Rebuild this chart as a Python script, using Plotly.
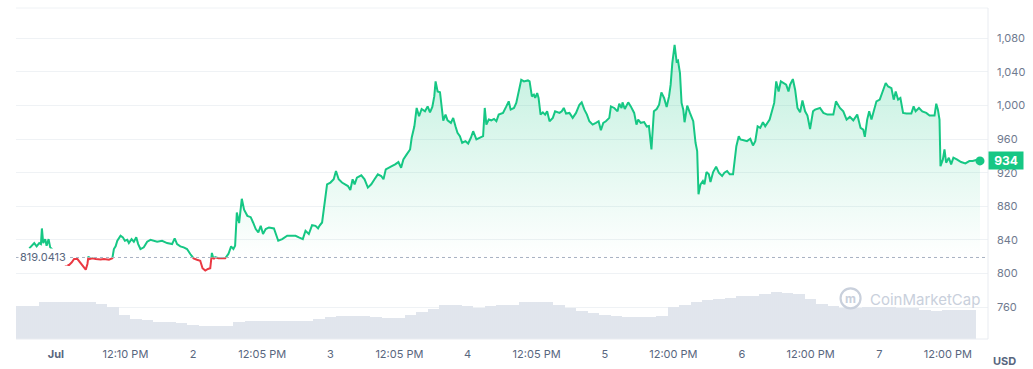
import pandas as pd
import plotly.graph_objects as go

# ---------------- data ----------------
# hours since 2023-07-01 00:00
hours = [-4.65, -4.06, -3.78, -3.36, -2.91, -2.61, -2.44, -2.21, -1.86, -1.62, -1.27, -0.99, -0.70,
         1.74, 2.32, 2.79, 3.19, 3.78, 4.18, 4.65, 5.23, 5.52, 5.70, 5.92, 6.39, 6.97, 7.84, 8.41, 9.28,
         9.88, 10.15, 10.45, 10.75, 11.32, 11.72, 12.07, 12.49, 12.77, 13.24, 13.64, 14.06, 14.40, 14.80,
         15.38, 15.97, 16.55, 17.12, 17.71, 18.58, 19.45, 20.33, 20.78, 21.20, 21.77, 22.35, 22.94, 23.51,
         24.09, 24.68, 25.25, 25.65, 26.13, 26.60, 27.00, 27.29, 27.57, 27.87, 28.44, 29.03, 29.61, 30.18,
         30.65, 31.05, 31.35, 31.65, 32.05, 32.52, 32.92, 33.49, 34.08, 34.49, 34.96, 35.41, 35.83, 36.23,
         36.70, 37.27, 38.14, 38.89, 39.59, 40.46, 41.33, 41.92, 42.50, 43.19, 43.66, 44.24, 44.81, 45.41,
         45.86, 46.10, 46.56, 47.03, 47.43, 48.02, 48.59, 48.99, 49.46, 50.04, 50.63, 51.08, 51.50, 51.90,
         52.25, 52.65, 53.42, 53.99, 54.57, 55.16, 55.73, 56.31, 56.90, 57.30, 57.70, 58.17, 58.75, 59.34,
         59.91, 60.38, 60.78, 61.36, 61.95, 62.23, 62.70, 63.10, 63.52, 63.97, 64.56, 65.02, 65.43, 65.84,
         66.18, 66.41, 66.76, 67.18, 67.75, 68.15, 68.50, 69.09, 69.49, 69.89, 70.24, 70.66, 71.06, 71.64,
         72.11, 72.58, 72.98, 73.55, 74.14, 74.72, 75.01, 75.29, 75.71, 76.16, 76.63, 77.04, 77.45, 78.20,
         78.78, 79.20, 79.54, 80.12, 80.52, 80.94, 81.39, 81.86, 82.56, 82.85, 83.25, 83.60, 83.83, 84.18,
         84.42, 84.77, 85.17, 85.57, 85.92, 86.34, 86.91, 87.31, 88.08, 88.48, 88.83, 89.23, 89.82, 90.39,
         90.97, 91.56, 91.96, 92.43, 92.88, 93.30, 93.88, 94.45, 94.92, 95.32, 95.74, 96.19, 96.79, 97.07,
         97.66, 98.23, 98.53, 98.93, 99.10, 99.50, 100.10, 100.55, 101.14, 101.54, 101.84, 102.29, 102.88,
         103.34, 103.72, 104.16, 104.59, 105.08, 105.50, 105.90, 106.37, 106.82, 107.24, 107.52, 107.81,
         108.21, 108.56, 108.80, 109.15, 109.43, 109.73, 109.95, 110.42, 110.89, 111.47, 111.87, 112.16,
         112.39, 112.74, 113.16, 113.43, 113.78, 114.20, 114.48, 114.95, 115.47, 115.94, 116.52, 116.92,
         117.39, 117.86, 118.43, 118.73, 119.01, 119.43, 119.71, 120.30, 120.87, 121.45, 121.92, 122.32,
         122.73, 123.19, 123.66, 124.06, 124.48, 124.83, 125.23, 125.63, 125.98, 126.40, 126.79, 127.26,
         127.72, 128.13, 128.41, 128.89, 129.29, 129.70, 130.16, 130.57, 131.03, 131.44, 131.90, 132.42,
         132.77, 133.64, 134.23, 134.93, 135.38, 135.97, 136.43, 137.12, 137.71, 138.29, 138.86, 139.46,
         140.15, 140.73, 141.20, 141.48, 141.89, 142.24, 142.64, 143.04, 143.51, 144.09, 144.68, 145.13,
         145.55, 146.13, 146.53, 146.88, 147.30, 147.70, 148.17, 148.74, 149.61, 150.01, 150.36, 150.95,
         151.53, 152.22, 152.80, 153.67, 153.97, 154.26, 154.54, 154.71, 155.13, 155.41, 155.70, 156.17,
         156.57, 156.97, 157.56, 158.31, 159.06, 159.76, 160.35, 160.93, 161.62]

prices = [829.9, 835.0, 836.2, 832.3, 836.2, 835.0, 853.6, 836.2, 840.9, 833.0, 840.9, 831.1, 829.1,
          810.1, 810.1, 813.3, 817.2, 817.2, 813.3, 809.3, 804.6, 811.3, 820.4, 817.2, 818.1, 817.2, 816.6, 817.2, 816.4,
          818.1, 829.1, 832.3, 838.9, 844.9, 843.0, 838.9, 840.1, 836.2, 840.9, 837.8, 843.0, 835.0, 829.1,
          831.1, 837.8, 840.1, 838.9, 837.8, 838.9, 836.2, 835.0, 841.8, 835.0, 832.3, 831.1, 829.1, 823.2,
          818.0, 816.4, 815.2, 806.2, 803.4, 805.4, 806.2, 824.4, 817.2, 819.3, 818.1, 818.1, 818.1, 823.2,
          832.3, 829.1, 833.0, 872.6, 859.9, 888.9, 875.9, 868.6, 867.0, 860.7, 852.8, 848.9, 856.7, 846.9,
          852.8, 854.8, 853.6, 838.9, 840.9, 844.9, 844.9, 844.9, 843.0, 840.9, 850.8, 846.9, 857.5, 856.7,
          853.6, 856.7, 860.7, 884.4, 906.1, 908.2, 912.1, 921.9, 912.1, 908.2, 906.1, 904.1, 899.4, 912.1,
          906.1, 914.1, 916.8, 912.1, 902.2, 906.1, 912.1, 918.0, 916.0, 912.1, 923.9, 925.9, 927.8, 929.8,
          932.6, 925.9, 935.8, 941.7, 947.6, 961.5, 975.2, 997.0, 987.1, 995.8, 993.0, 998.9, 991.8, 998.2,
          1010.8, 1028.6, 1016.7, 1015.8, 982.0, 989.1, 982.3, 979.3, 985.2, 975.2, 967.4, 963.4, 955.6, 957.5,
          954.7, 961.5, 969.3, 959.5, 961.5, 963.4, 997.0, 977.2, 983.2, 982.3, 984.0, 981.2, 989.1, 991.1,
          998.9, 1004.9, 995.0, 997.0, 1003.0, 1018.7, 1030.6, 1028.6, 1029.8, 1028.6, 1010.8, 1012.8, 1008.9, 1014.8,
          1008.9, 989.1, 991.8, 989.1, 993.0, 981.2, 985.2, 993.0, 991.1, 993.0, 997.0, 990.3, 991.1, 985.2,
          991.1, 1000.9, 1003.7, 995.0, 989.1, 981.2, 977.2, 979.3, 981.2, 970.5, 979.3, 981.2, 985.2, 998.9,
          997.0, 993.0, 1002.1, 997.0, 1003.7, 995.8, 1003.7, 998.9, 991.1, 977.2, 983.2, 979.3, 980.2,
          974.9, 975.5, 947.6, 993.0, 995.8, 1001.0, 1015.5, 1008.9, 998.2, 1010.8, 1024.7, 1050.4,
          1072.1, 1052.3, 1053.5, 1038.5, 1003.0, 995.0, 980.0, 999.8, 991.1, 981.2, 955.6, 945.6,
          894.3, 906.1, 910.0, 906.1, 920.7, 918.0, 908.9, 920.7, 927.1, 920.0, 916.0, 920.0,
          921.9, 918.0, 918.0, 937.8, 951.5, 963.4, 959.5, 958.6, 957.5, 960.3, 952.4, 957.5,
          975.2, 973.3, 980.0, 975.2, 980.0, 983.2, 993.0, 1003.0, 1028.6, 1016.7, 1028.6, 1026.7,
          1024.7, 1016.7, 1024.7, 1031.4, 1018.7, 997.0, 991.8, 1006.0, 993.0, 987.9, 971.9, 993.0,
          995.0, 997.0, 991.1, 989.1, 989.1, 989.1, 1004.9, 997.0, 993.0, 983.2, 986.4, 982.3,
          989.1, 973.3, 971.3, 962.7, 983.2, 993.0, 983.2, 993.0, 1004.9, 1006.9, 1018.7, 1026.7,
          1022.6, 1020.7, 1006.9, 1016.7, 1006.9, 1008.9, 991.1, 990.3, 990.3, 998.9, 993.0, 997.0,
          993.0, 991.1, 987.9, 987.9, 1002.1, 995.0, 983.2, 927.8, 935.8, 947.6, 931.9, 937.8,
          929.8, 937.8, 935.8, 932.6, 931.0, 933.8, 933.8, 935.0, 934.0]

# volume bars: 2-hour buckets (centre hour since 2023-07-01 00:00), relative units
vol_hours = list(range(-6, 161, 2))
volumes = [1.00, 1.00, 1.11, 1.12, 1.12, 1.12, 1.11, 1.05, 0.98, 0.72, 0.60, 0.57, 0.51, 0.51,
           0.47, 0.42, 0.40, 0.40, 0.40, 0.51, 0.55, 0.55, 0.55, 0.55, 0.55, 0.55, 0.60, 0.66,
           0.68, 0.70, 0.70, 0.65, 0.63, 0.63, 0.72, 0.81, 0.90, 1.02, 1.02, 0.99, 0.93, 0.99,
           1.02, 1.02, 1.11, 1.11, 1.11, 1.02, 0.93, 0.84, 0.80, 0.73, 0.71, 0.65, 0.65, 0.66,
           0.70, 0.96, 1.02, 1.11, 1.17, 1.20, 1.23, 1.30, 1.30, 1.36, 1.41, 1.40, 1.36, 1.20,
           1.05, 0.99, 0.93, 0.93, 0.96, 0.97, 0.96, 0.95, 0.93, 0.87, 0.85, 0.87, 0.87, 0.87]

baseline = 819.0413
tick_times = ["2023-07-01 00:00", "2023-07-01 12:10", "2023-07-02 00:00", "2023-07-02 12:05",
              "2023-07-03 00:00", "2023-07-03 12:05", "2023-07-04 00:00", "2023-07-04 12:05",
              "2023-07-05 00:00", "2023-07-05 12:00", "2023-07-06 00:00", "2023-07-06 12:00",
              "2023-07-07 00:00", "2023-07-07 12:00"]
tick_labels = ["<b>Jul</b>", "12:10 PM", "2", "12:05 PM", "3", "12:05 PM", "4", "12:05 PM",
               "5", "12:00 PM", "6", "12:00 PM", "7", "12:00 PM"]
price_ticks = [760, 800, 840, 880, 920, 960, 1000, 1040, 1080]

# ---------------- figure ----------------
GREEN = "#16c784"
RED = "#ea3943"
AXIS_TXT = "#58667e"
GRID = "#eff2f5"
FONT = "Inter"

base = pd.Timestamp("2023-07-01 00:00")
t = base + pd.to_timedelta(hours, unit="h")
vt = base + pd.to_timedelta(vol_hours, unit="h")
x_range = [base + pd.Timedelta(hours=-6.97), base + pd.Timedelta(hours=163.02)]

Y_MIN, Y_MAX = 722, 1116
f = (baseline - Y_MIN) / (Y_MAX - Y_MIN)

fig = go.Figure()

fig.add_trace(go.Bar(
    x=vt, y=volumes, yaxis="y2", width=2 * 3600 * 1000,
    marker=dict(color="#ffffff", line=dict(width=0),
                pattern=dict(shape="|", fgcolor="#c9d1df", bgcolor="#ffffff",
                             size=2, solidity=0.55, fillmode="replace")),
    hoverinfo="skip", showlegend=False))

fig.add_trace(go.Scatter(
    x=t, y=prices, mode="lines", line=dict(width=0), fill="tozeroy",
    fillgradient=dict(type="vertical",
                      colorscale=[[0, "rgba(22,199,132,0)"], [1, "rgba(22,199,132,0.28)"]],
                      start=baseline, stop=1080),
    hoverinfo="skip", showlegend=False))

fig.add_trace(go.Scatter(x=t, y=prices, yaxis="y3", mode="lines",
                         line=dict(color=GREEN, width=2), showlegend=False))
fig.add_trace(go.Scatter(x=t, y=prices, yaxis="y4", mode="lines",
                         line=dict(color=RED, width=2), showlegend=False))

fig.add_trace(go.Scatter(x=[t[-1]], y=[prices[-1]], mode="markers",
                         marker=dict(size=9, color=GREEN), cliponaxis=False, showlegend=False))

fig.update_layout(
    width=1033, height=369,
    margin=dict(l=16, r=41, t=8, b=29),
    paper_bgcolor="white", plot_bgcolor="rgba(0,0,0,0)",
    font=dict(family=FONT, size=11, color=AXIS_TXT),
    bargap=0,
    hovermode=False,
    xaxis=dict(type="date", range=x_range, tickvals=tick_times, ticktext=tick_labels,
               showgrid=False, zeroline=False, showline=False, ticks="",
               ticklabelstandoff=7, tickfont=dict(size=11, color=AXIS_TXT, family=FONT)),
    yaxis=dict(domain=[0, 1], range=[Y_MIN, Y_MAX], side="right", tickvals=price_ticks,
               tickformat=",.0f", showgrid=True, gridcolor=GRID, gridwidth=1,
               zeroline=False, showline=False, ticks="", ticklabelstandoff=8,
               tickfont=dict(size=11, color="#6f7a8f", family=FONT)),
    yaxis2=dict(overlaying="y", range=[0, 10], visible=False, showgrid=False),
    yaxis3=dict(domain=[f, 1], range=[baseline, Y_MAX], anchor="x", visible=False, showgrid=False),
    yaxis4=dict(domain=[0, f], range=[Y_MIN, baseline], anchor="x", visible=False, showgrid=False),
)

shapes = [
    dict(type="line", xref="paper", yref="y", x0=0, x1=1, y0=baseline, y1=baseline,
         line=dict(color="#a7b1c2", width=1, dash="dot")),
    dict(type="line", xref="paper", yref="paper", x0=0, x1=1, y0=1, y1=1,
         line=dict(color=GRID, width=1)),
    dict(type="line", xref="paper", yref="paper", x0=0, x1=1, y0=0, y1=0,
         line=dict(color="#e9ecf1", width=1)),
    dict(type="line", xref="paper", yref="paper", x0=1, x1=1, y0=0, y1=1,
         line=dict(color="#e9ecf1", width=1)),
    dict(type="circle", xref="paper", yref="paper", xsizemode="pixel", ysizemode="pixel",
         xanchor=0.8586, yanchor=0.123, x0=-10, x1=10, y0=-10, y1=10,
         line=dict(color="#c9d0dc", width=2.2)),
]
fig.update_layout(shapes=shapes)

annotations = [
    dict(x=0, xref="paper", y=baseline, yref="y", xanchor="left", xshift=2, yanchor="middle",
         text=f"{baseline}", showarrow=False, bgcolor="white",
         font=dict(size=11, color=AXIS_TXT, family=FONT)),
    dict(x=1, xref="paper", y=prices[-1], yref="y", xanchor="left", yanchor="middle",
         text=f"<b>{prices[-1]:.0f}</b>", showarrow=False, bgcolor=GREEN, width=34, height=17,
         borderpad=0, align="center", font=dict(size=12, color="white", family=FONT)),
    dict(x=1, xref="paper", y=0, yref="paper", xanchor="left", yanchor="middle", xshift=3, yshift=-22,
         text="<b>USD</b>", showarrow=False, font=dict(size=11, color=AXIS_TXT, family=FONT)),
    dict(x=0.877, xref="paper", y=0.1205, yref="paper", xanchor="left", yanchor="middle",
         text="CoinMarketCap", showarrow=False, font=dict(size=15, color="#c9d0dc", family=FONT)),
    dict(x=0.8586, xref="paper", y=0.123, yref="paper", xanchor="center", yanchor="middle",
         text="<b>m</b>", showarrow=False, font=dict(size=12, color="#c9d0dc", family=FONT)),
]
fig.update_layout(annotations=annotations)

fig.write_html("out.html", config={"displayModeBar": False, "staticPlot": True},
               post_script="document.body.style.margin='0';document.body.style.overflow='hidden';")
